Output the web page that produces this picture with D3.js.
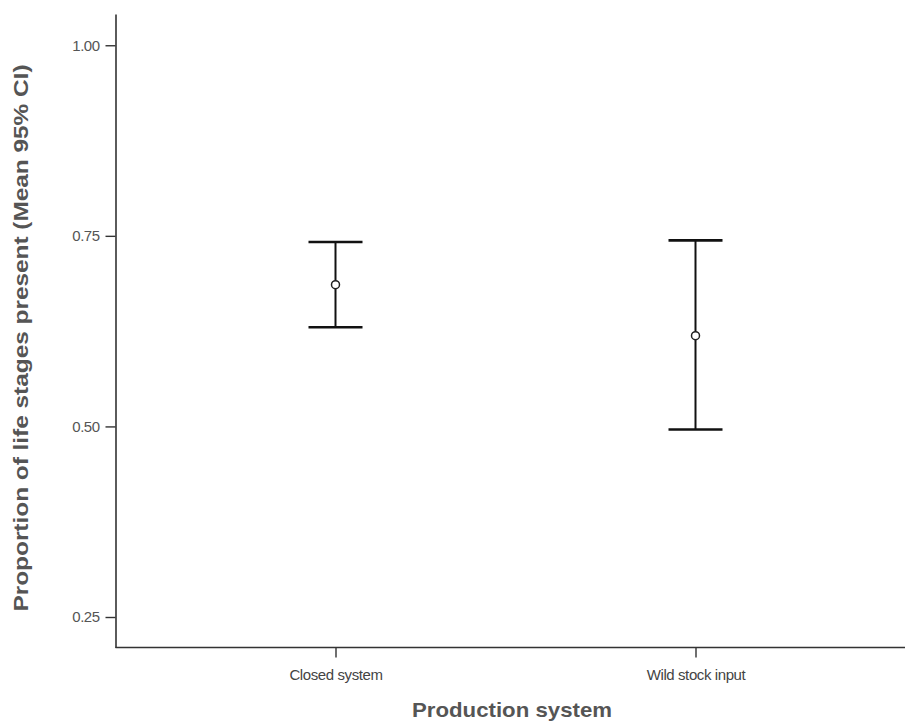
<!DOCTYPE html>
<html>
<head>
<meta charset="utf-8">
<script src="https://cdn.jsdelivr.net/npm/d3@7"></script>
<style>
  body { margin: 0; background: #fff; }
  svg { display: block; font-family: "Liberation Sans", Arial, sans-serif; }
</style>
</head>
<body>
<div id="chart"></div>
<script>
var categories = ["Closed system", "Wild stock input"];
var means = [0.686, 0.619];
var lower = [0.630, 0.496];
var upper = [0.742, 0.744];
var yTicks = [0.25, 0.50, 0.75, 1.00];

var width = 905, height = 721;

var svg = d3.select('#chart')
    .append('svg')
    .attr('width', width)
    .attr('height', height);

var x = d3.scalePoint()
    .domain(categories)
    .range([335.5, 695.5]);

var y = d3.scaleLinear()
    .domain([0.21, 1.041])
    .range([647.5, 14]);

var rows = categories.map(function (c, i) {
    return { cat: c, mean: means[i], lo: lower[i], hi: upper[i] };
});

// y axis
var yAxis = svg.append("g")
    .attr("transform", "translate(115.5,0)")
    .call(d3.axisLeft(y).tickValues(yTicks).tickFormat(d3.format(".2f")).tickSize(10).tickSizeOuter(0));
yAxis.select(".domain").attr("stroke", "#333").attr("stroke-width", 1.6);
yAxis.selectAll(".tick line").attr("stroke", "#333").attr("stroke-width", 1.4);
yAxis.selectAll(".tick text")
    .attr("x", -16)
    .attr("fill", "#555")
    .style("font-size", "15px")
    .style("letter-spacing", "-0.5px");

// x axis
var xAxis = svg.append("g")
    .attr("transform", "translate(0,647.5)")
    .call(d3.axisBottom(x).tickSize(10).tickSizeOuter(0));
xAxis.select(".domain").attr("d", "M115.5,0H905").attr("stroke", "#333").attr("stroke-width", 1.6);
xAxis.selectAll(".tick line").attr("stroke", "#333").attr("stroke-width", 1.4);
xAxis.selectAll(".tick text")
    .attr("y", 32.5)
    .attr("dy", 0)
    .attr("fill", "#444")
    .style("font-size", "15px")
    .style("letter-spacing", "-0.4px");

// error bars
var g = svg.append("g");
var capHalf = 27;

g.selectAll(".stem")
    .data(rows)
    .join("line")
    .attr("x1", d => x(d.cat))
    .attr("x2", d => x(d.cat))
    .attr("y1", d => y(d.hi))
    .attr("y2", d => y(d.lo))
    .attr("stroke", "#111")
    .attr("stroke-width", 2);

g.selectAll(".capTop")
    .data(rows)
    .join("line")
    .attr("x1", d => x(d.cat) - capHalf)
    .attr("x2", d => x(d.cat) + capHalf)
    .attr("y1", d => y(d.hi))
    .attr("y2", d => y(d.hi))
    .attr("stroke", "#111")
    .attr("stroke-width", 2.6);

g.selectAll(".capBot")
    .data(rows)
    .join("line")
    .attr("x1", d => x(d.cat) - capHalf)
    .attr("x2", d => x(d.cat) + capHalf)
    .attr("y1", d => y(d.lo))
    .attr("y2", d => y(d.lo))
    .attr("stroke", "#111")
    .attr("stroke-width", 2.6);

g.selectAll("circle")
    .data(rows)
    .join("circle")
    .attr("cx", d => x(d.cat))
    .attr("cy", d => y(d.mean))
    .attr("r", 4)
    .attr("fill", "#fff")
    .attr("stroke", "#222")
    .attr("stroke-width", 1.5);

// axis titles
svg.append("text")
    .attr("x", 512)
    .attr("y", 717)
    .attr("text-anchor", "middle")
    .attr("fill", "#555")
    .attr("textLength", 200)
    .attr("lengthAdjust", "spacingAndGlyphs")
    .style("font-size", "21px")
    .style("font-weight", "bold")
    .text("Production system");

svg.append("text")
    .attr("transform", "translate(28,338) rotate(-90)")
    .attr("text-anchor", "middle")
    .attr("fill", "#555")
    .attr("textLength", 547)
    .attr("lengthAdjust", "spacingAndGlyphs")
    .style("font-size", "20px")
    .style("font-weight", "bold")
    .text("Proportion of life stages present (Mean 95% CI)");
</script>
</body>
</html>
